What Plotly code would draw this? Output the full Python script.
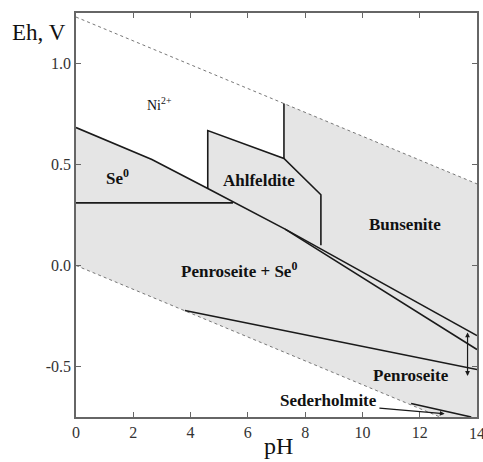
import plotly.graph_objects as go

# ---- data (pH, Eh) ----
water_upper_ph = [0, 14]
water_upper_eh = [1.23, 0.404]
water_lower_ph = [0, 12.71]
water_lower_eh = [0.0, -0.75]

# shaded stability field (outside Ni2+ field)
shade_ph = [0, 2.65, 4.6, 4.6, 7.26, 7.26, 14, 14, 12.71, 0]
shade_eh = [0.683, 0.525, 0.381, 0.668, 0.53, 0.802, 0.404, -0.75, -0.75, 0.0]

# solid boundaries
main_ph = [0, 2.65, 4.6, 7.3, 14]
main_eh = [0.683, 0.525, 0.381, 0.18, -0.416]
upper_ph = [7.3, 14]
upper_eh = [0.18, -0.347]
se_h_ph = [0, 5.48]
se_h_eh = [0.31, 0.31]
ahl_ph = [4.6, 4.6, 7.26, 8.55, 8.55]
ahl_eh = [0.381, 0.668, 0.53, 0.35, 0.1]
ni_v_ph = [7.26, 7.26]
ni_v_eh = [0.53, 0.802]
pen_ph = [3.8, 14]
pen_eh = [-0.223, -0.515]
sed_ph = [11.7, 13.8]
sed_eh = [-0.683, -0.75]

labels = ["Ni<sup>2+</sup>", "<b>Se<sup>0</sup></b>", "<b>Ahlfeldite</b>", "<b>Bunsenite</b>",
          "<b>Penroseite + Se<sup>0</sup></b>", "<b>Penroseite</b>", "<b>Sederholmite</b>"]
label_ph = [2.9, 1.45, 6.4, 11.5, 5.7, 11.7, 8.8]
label_eh = [0.80, 0.44, 0.42, 0.205, -0.02, -0.545, -0.668]
label_size = [14, 17, 17, 17, 17, 17, 17]

x_ticks = [0, 2, 4, 6, 8, 10, 12, 14]
y_ticks = [-0.5, 0.0, 0.5, 1.0]

FONT = "Times New Roman, Liberation Serif, DejaVu Serif, serif"
LINE = "#1a1a1a"

fig = go.Figure()
fig.add_trace(go.Scatter(x=shade_ph, y=shade_eh, fill="toself", fillcolor="#e5e5e5",
                         mode="none", hoverinfo="skip", showlegend=False))
for xs, ys in [(water_upper_ph, water_upper_eh), (water_lower_ph, water_lower_eh)]:
    fig.add_trace(go.Scatter(x=xs, y=ys, mode="lines",
                             line=dict(color="#777777", width=1, dash="dot"),
                             showlegend=False, hoverinfo="skip"))
for xs, ys in [(main_ph, main_eh), (upper_ph, upper_eh), (se_h_ph, se_h_eh),
               (ahl_ph, ahl_eh), (ni_v_ph, ni_v_eh), (pen_ph, pen_eh), (sed_ph, sed_eh)]:
    fig.add_trace(go.Scatter(x=xs, y=ys, mode="lines",
                             line=dict(color=LINE, width=1.6),
                             showlegend=False, hoverinfo="skip"))

for t, px, ey, s in zip(labels, label_ph, label_eh, label_size):
    fig.add_annotation(x=px, y=ey, text=t, showarrow=False, xanchor="center",
                       font=dict(family=FONT, size=s, color="#111111"))

# arrows
fig.add_annotation(x=12.87, y=-0.734, ax=10.54, ay=-0.705, axref="x", ayref="y",
                   xref="x", yref="y", text="", showarrow=True, arrowhead=2,
                   arrowsize=0.8, arrowwidth=1.2, arrowcolor=LINE)
fig.add_annotation(x=13.67, y=-0.332, ax=13.67, ay=-0.554, axref="x", ayref="y",
                   xref="x", yref="y", text="", showarrow=True, arrowhead=2,
                   arrowside="end+start", arrowsize=0.8, arrowwidth=1.2,
                   arrowcolor=LINE)

# last x tick label (partly beyond the page edge, as in the reference)
fig.add_annotation(x=x_ticks[-1], xref="x", y=-0.015, yref="paper", text=str(x_ticks[-1]),
                   xanchor="center", yanchor="top", showarrow=False,
                   font=dict(family=FONT, size=16, color="#333333"))

# axis titles
fig.add_annotation(x=-0.092, y=0.952, xref="paper", yref="paper", text="Eh, V",
                   xanchor="center", yanchor="middle",
                   showarrow=False, font=dict(family=FONT, size=23, color="#111111"))
fig.add_annotation(x=0.504, y=-0.073, xref="paper", yref="paper", text="pH",
                   xanchor="center", yanchor="middle",
                   showarrow=False, font=dict(family=FONT, size=24, color="#111111"))

axis_common = dict(showgrid=False, zeroline=False, showline=True, linecolor="#666666",
                   linewidth=1.5, ticks="inside", ticklen=5, tickcolor="#666666",
                   mirror="allticks", automargin=False,
                   tickfont=dict(family=FONT, size=16, color="#333333"))
fig.update_xaxes(range=[0, 14], tickvals=x_ticks, ticktext=[str(v) for v in x_ticks],
                 **axis_common)
fig.update_yaxes(range=[-0.75, 1.25], tickvals=y_ticks,
                 ticktext=[f"{v:.1f}" for v in y_ticks], **axis_common)
fig.update_layout(width=483, height=462, margin=dict(l=76, r=6, t=13, b=45),
                  paper_bgcolor="white", plot_bgcolor="white", showlegend=False)
fig.write_html("out.html")
